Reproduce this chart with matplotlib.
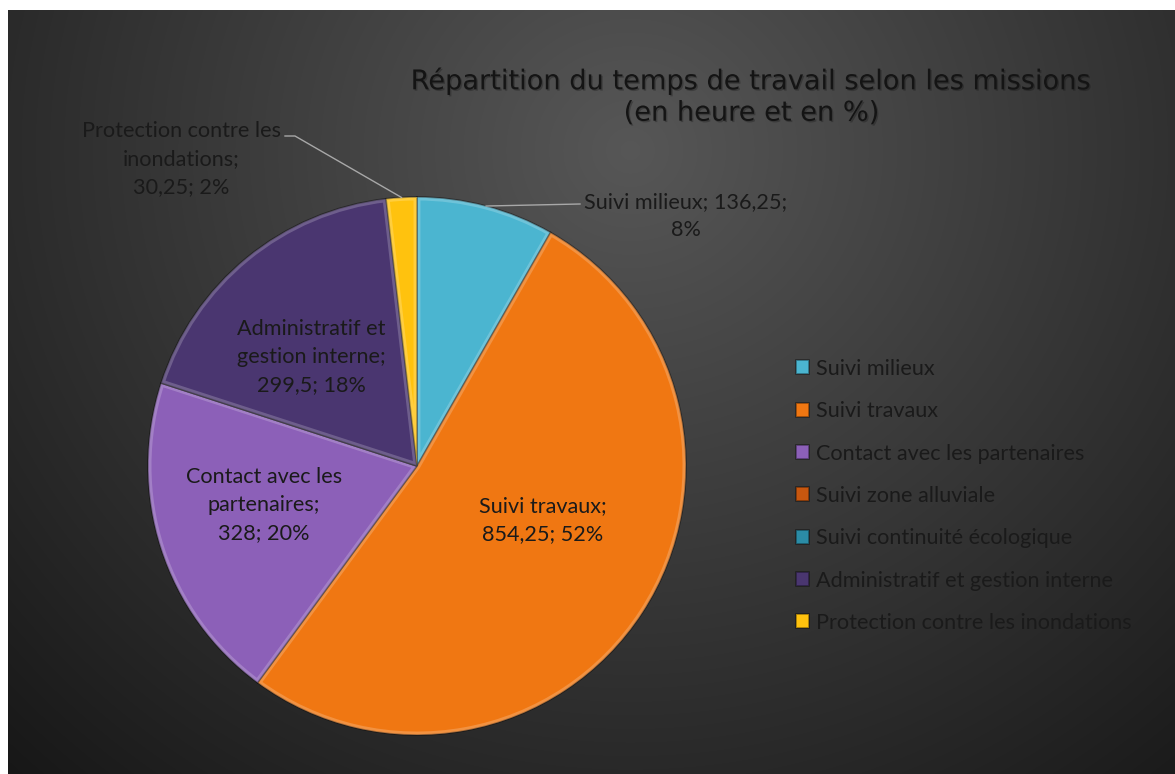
import numpy as np
import matplotlib.pyplot as plt
from matplotlib import patheffects
from matplotlib.patches import Wedge

# Données (heures par mission)
categories = ["Suivi milieux", "Suivi travaux", "Contact avec les partenaires",
              "Suivi zone alluviale", "Suivi continuité écologique",
              "Administratif et gestion interne", "Protection contre les inondations"]
heures = [136.25, 854.25, 328, 0, 0, 299.5, 30.25]
couleurs = ["#4bb5d0", "#f07712", "#8c60b8", "#c8570f", "#2b8ca6", "#4a3670", "#ffc20e"]

# étiquettes telles qu'affichées (retours à la ligne d'Excel)
etiquettes = ["Suivi milieux; {h};\n{p}%", "Suivi travaux;\n{h}; {p}%",
              "Contact avec les\npartenaires;\n{h}; {p}%", "", "",
              "Administratif et\ngestion interne;\n{h}; {p}%",
              "Protection contre les\ninondations;\n{h}; {p}%"]
# position des étiquettes en pixels (centre du texte)
pos_etiq = [(686, 216), (543, 520), (264, 505), None, None, (311, 357), (181, 159)]

W, H, DPI = 1175, 774, 100
CX, CY, R = 417, 466, 269
TXT = "#1a1a1a"
FONT = "Lato"
FS = 15.6


def px2d(x, y):
    return (x - CX) / R, (CY - y) / R


fig = plt.figure(figsize=(W / DPI, H / DPI), dpi=DPI)
fig.patch.set_facecolor("white")

# fond sombre avec dégradé radial
bg = fig.add_axes([8 / W, 0, 1 - 8 / W, 1 - 10 / H], zorder=0)
yy, xx = np.mgrid[10:H, 8:W]
d = np.hypot((xx - 630) / 1.0, (yy - 150) / 0.95)
v = 0.34 - 0.22 * np.clip(d / 800, 0, 1.2) ** 1.0
img = np.dstack([v, v, v])
bg.imshow(np.clip(img, 0, 1), aspect="auto", extent=[0, 1, 0, 1], origin="upper")
bg.set_axis_off()

# camembert
ax = fig.add_axes([(CX - R) / W, (H - CY - R) / H, 2 * R / W, 2 * R / H], zorder=1)
ax.set_facecolor("none")
wedges, _ = ax.pie(heures, colors=couleurs, startangle=90, counterclock=False,
                   radius=1, wedgeprops=dict(edgecolor="#00000066", linewidth=1.2))
ax.set_xlim(-1, 1)
ax.set_ylim(-1, 1)
ax.set_aspect("equal")
ax.set_axis_off()

# léger effet de biseau sur le bord des parts
for i, w in enumerate(wedges):
    if heures[i] == 0:
        continue
    bev = Wedge((0, 0), 1, w.theta1, w.theta2, facecolor="none",
                edgecolor="white", alpha=0.2, linewidth=5)
    ax.add_patch(bev)
    bev.set_clip_path(w)

total = sum(heures)
for i, w in enumerate(wedges):
    if heures[i] == 0:
        continue
    h = f"{heures[i]:g}".replace(".", ",")
    p = round(heures[i] / total * 100)
    s = etiquettes[i].format(h=h, p=p)
    tx, ty = px2d(*pos_etiq[i])
    ax.text(tx, ty, s, ha="center", va="center", fontsize=FS, family=FONT,
            color=TXT, linespacing=1.49, clip_on=False)

# lignes de rappel des étiquettes extérieures
for i, fin in [(0, [(580, 204)]), (6, [(295, 136), (285, 136)])]:
    mid = np.deg2rad((wedges[i].theta1 + wedges[i].theta2) / 2)
    xs = [np.cos(mid)] + [px2d(*p)[0] for p in fin]
    ys = [np.sin(mid)] + [px2d(*p)[1] for p in fin]
    ax.plot(xs, ys, color="#a8a8a8", lw=1, clip_on=False)

# titre
fig.text(752 / W, 1 - 97 / H, "Répartition du temps de travail selon les missions\n(en heure et en %)",
         ha="center", va="center", fontsize=19.6, family="DejaVu Sans", color="#141414",
         linespacing=1.27,
         path_effects=[patheffects.withSimplePatchShadow(offset=(1, -1), alpha=0.25)])

# légende
leg = fig.legend(wedges, categories, loc="center left", bbox_to_anchor=(796 / W, 1 - 496 / H),
                 frameon=False, prop=dict(family=FONT, size=FS), labelcolor=TXT,
                 handlelength=0.62, handleheight=0.62, handletextpad=0.32,
                 labelspacing=1.03, borderpad=0, borderaxespad=0)

fig.savefig("out.png", dpi=DPI)
